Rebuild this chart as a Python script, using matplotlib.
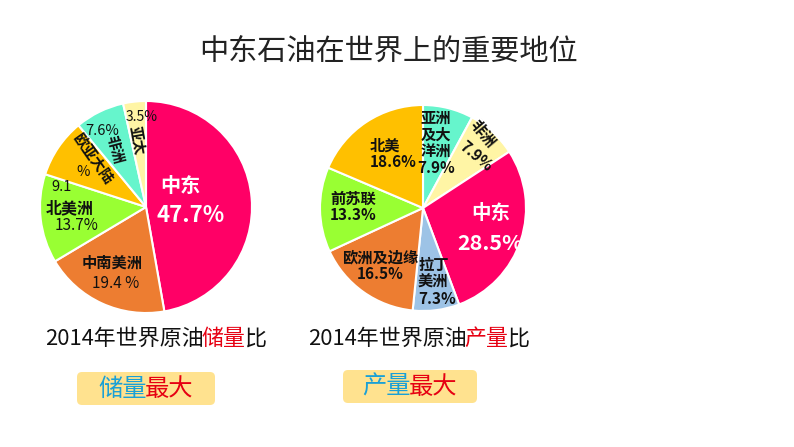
import matplotlib
matplotlib.use('Agg')
import matplotlib.pyplot as plt
from matplotlib.patches import FancyBboxPatch

plt.rcParams['font.family'] = ['Noto Sans CJK SC', 'DejaVu Sans']

# data: 2014 world crude oil reserves / production shares (%)
reserve_regions = ['中东', '中南美洲', '北美洲', '欧亚大陆', '非洲', '亚太']
reserve_share = [47.7, 19.4, 13.7, 9.1, 7.6, 3.5]
reserve_colors = ['#FF0066', '#ED7D31', '#99FF33', '#FFC000', '#66F5CC', '#FFF5A5']

output_regions = ['亚洲及大洋洲', '非洲', '中东', '拉丁美洲', '欧洲及边缘', '前苏联', '北美']
output_share = [7.9, 7.9, 28.5, 7.3, 16.5, 13.3, 18.6]
output_colors = ['#66F5CC', '#FFF5A5', '#FF0066', '#9DC3E6', '#ED7D31', '#99FF33', '#FFC000']

title = '中东石油在世界上的重要地位'

W, H = 794, 447
fig = plt.figure(figsize=(W / 100, H / 100), dpi=100)
ax = fig.add_axes([0, 0, 1, 1])


def Y(y):
    # image pixel row -> axes y (y up)
    return H - y


wp = dict(edgecolor='white', linewidth=1.5)
ax.pie(reserve_share, colors=reserve_colors, startangle=90, counterclock=False,
       center=(146, Y(207)), radius=106, wedgeprops=wp)
ax.pie(output_share, colors=output_colors, startangle=90, counterclock=False,
       center=(423, Y(208)), radius=103, wedgeprops=wp)

ax.set_xlim(0, W)
ax.set_ylim(0, H)
ax.set_aspect('equal')
ax.axis('off')


def lab(x, y, s, size=11, color='#111111', bold=True, rot=0, ha='center', ls=1.05):
    ax.text(x, Y(y), s, fontsize=size, color=color, ha=ha, va='center',
            fontweight='bold' if bold else 'normal', rotation=rot,
            rotation_mode='anchor', linespacing=ls)


# left pie labels
lab(180, 185, '中东', size=14.5, color='white')
lab(191, 215, '47.7%', size=16, color='white')
lab(112, 263, '中南美洲', size=11)
lab(116, 283, '19.4 %', size=11, bold=False)
lab(70, 208, '北美洲', size=11.5)
lab(77, 226, '13.7%', size=11, bold=False)
lab(62, 187, '9.1', size=10.5, bold=False)
lab(93, 158, '欧亚大陆', size=10.5, rot=-55)
lab(83, 172, '%', size=10.5, bold=False)
lab(102, 131, '7.6%', size=10.5, bold=False)
lab(115, 150, '非洲', size=10.5, rot=-75)
lab(142, 117, '3.5%', size=10, bold=False)
lab(137, 140, '亚太', size=10.5, rot=-80)

# right pie labels
lab(436, 143, '亚洲\n及大\n洋洲\n7.9%', size=11)
lab(483, 134, '非洲', size=11, rot=-50)
lab(476, 156, '7.9%', size=11, rot=-40)
lab(370, 154, '北美\n18.6%', size=11, ha='left')
lab(353, 207, '前苏联\n13.3%', size=11)
lab(380, 266, '欧洲及边缘\n16.5%', size=11)
lab(418, 282, '拉丁\n美洲\n7.3%', size=11, ha='left')
lab(491, 213, '中东', size=14, color='white')
lab(490, 243, '28.5%', size=15.5, color='white')

# title
ax.text(389, Y(52), title, fontsize=21, color='#222222', ha='center', va='center')

# captions with highlighted words, laid out piece by piece
renderer = fig.canvas.get_renderer()


def caption(x, y, parts):
    for s, c in parts:
        t = ax.text(x, Y(y), s, fontsize=15.8, color=c, ha='left', va='center')
        x1 = t.get_window_extent(renderer).x1
        # CJK extents come out a little wide, pull the next piece back a bit
        x = ax.transData.inverted().transform((x1, 0))[0] - 2


caption(45, 339, [('2014年世界原油', '#111111'), ('储量', '#E60012'), ('比', '#111111')])
caption(308, 339, [('2014年世界原油', '#111111'), ('产量', '#E60012'), ('比', '#111111')])

# highlighted boxes
for x0, y0, x1, y1, word in [(77, 372, 215, 405, '储量'), (343, 370, 477, 403, '产量')]:
    ax.add_patch(FancyBboxPatch((x0, Y(y1)), x1 - x0, y1 - y0,
                                boxstyle='round,pad=0,rounding_size=5',
                                facecolor='#FFE28F', edgecolor='none'))
    cx, cy = (x0 + x1) / 2, (y0 + y1) / 2
    ax.text(cx + 1, Y(cy), word, fontsize=17.5, color='#1AA0D6', ha='right', va='center')
    ax.text(cx - 1, Y(cy), '最大', fontsize=17.5, color='#E60012', ha='left', va='center')

fig.savefig('out.png', dpi=100)
